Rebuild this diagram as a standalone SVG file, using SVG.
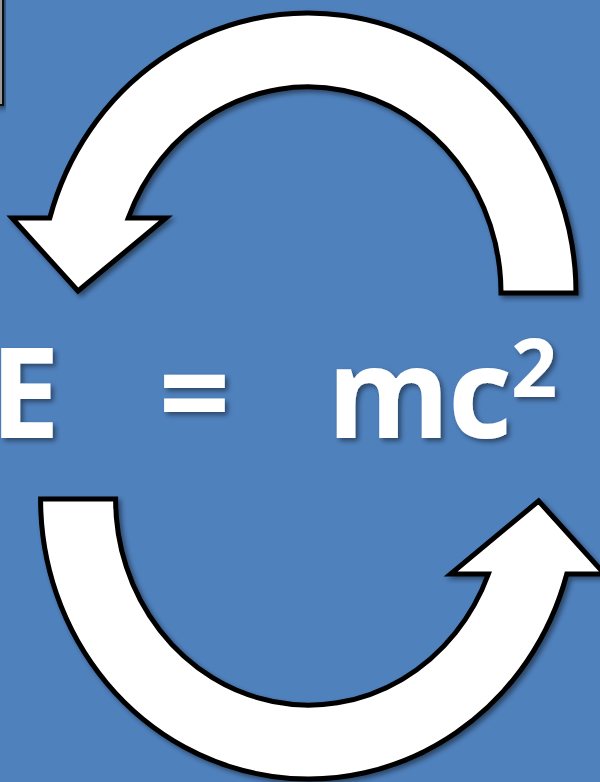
<svg xmlns="http://www.w3.org/2000/svg" xmlns:xlink="http://www.w3.org/1999/xlink" width="600" height="782" viewBox="0 0 600 782">
  <style>
    .arrow { fill: #ffffff; stroke: #000000; stroke-width: 5; stroke-linejoin: miter; stroke-miterlimit: 10; }
    .eq { font-family: "Open Sans", "Liberation Sans", sans-serif; font-weight: bold; fill: #ffffff; }
  </style>
  <defs>
    <filter id="sh" x="-10%" y="-10%" width="130%" height="130%">
      <feGaussianBlur in="SourceAlpha" stdDeviation="2.5"/>
      <feOffset dx="3" dy="3" result="b"/>
      <feComponentTransfer><feFuncA type="linear" slope="0.45"/></feComponentTransfer>
      <feMerge><feMergeNode/><feMergeNode in="SourceGraphic"/></feMerge>
    </filter>
    <path id="curved-arrow" class="arrow" d="M 576 293 A 268 280 0 0 0 49.8 218 L 12 218 L 78 291 L 166 218 L 128.2 218 A 193 206 0 0 1 501 293 Z"/>
  </defs>

  <rect x="0" y="0" width="600" height="782" fill="#4f81bd"/>

  <g id="frame-edge" filter="url(#sh)">
    <rect x="-10" y="-10" width="13" height="115" fill="#9a9a9a" stroke="#111111" stroke-width="2"/>
  </g>

  <g id="connectors">
    <g id="arrow-top" filter="url(#sh)">
      <use xlink:href="#curved-arrow"/>
    </g>
    <g id="arrow-bottom" filter="url(#sh)">
      <use xlink:href="#curved-arrow" transform="rotate(180 308.3 396)"/>
    </g>
  </g>

  <g id="equation" filter="url(#sh)">
    <text class="eq" font-size="125" y="438"><tspan x="-10">E</tspan><tspan x="194.5" text-anchor="middle"> = </tspan><tspan x="327">m</tspan><tspan x="448">c</tspan><tspan x="511" y="397" font-size="81">2</tspan></text>
  </g>
</svg>
